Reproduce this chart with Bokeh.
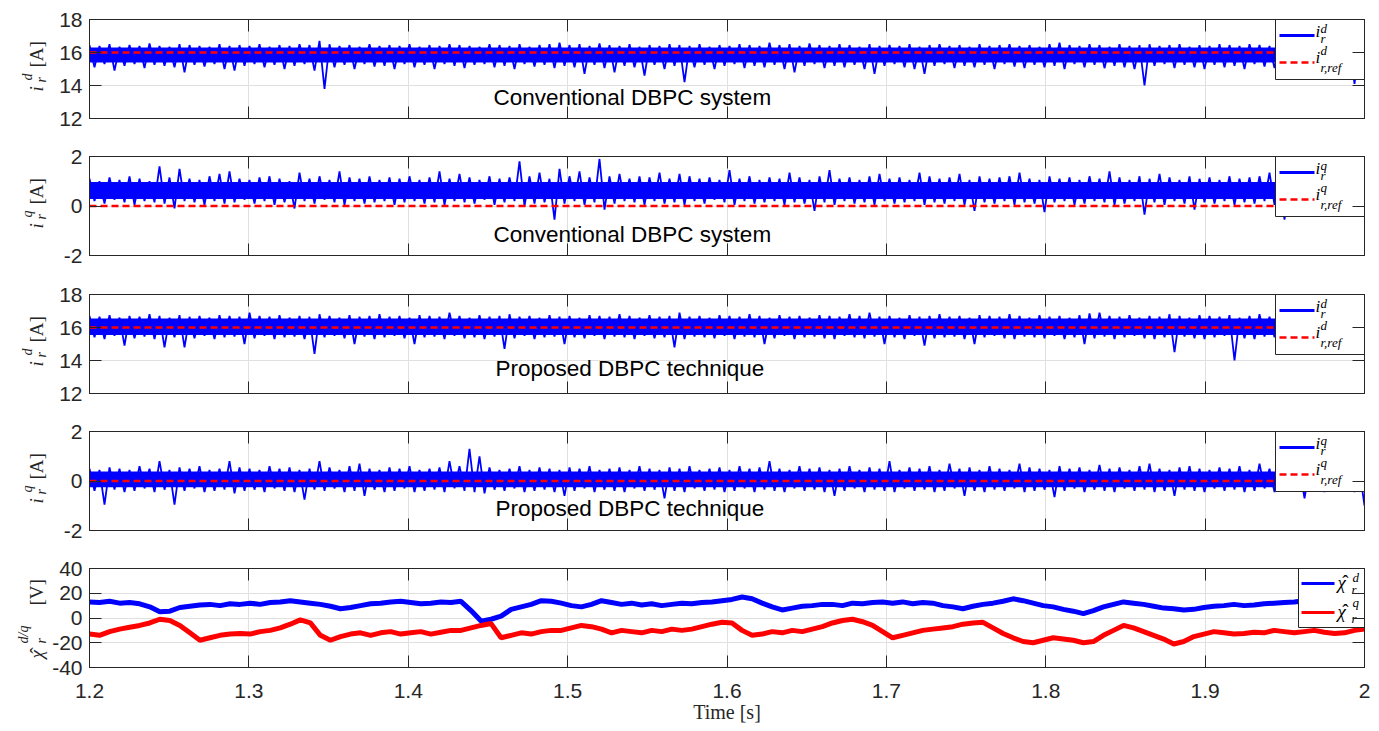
import numpy as np
from bokeh.plotting import figure
from bokeh.models import Range1d, LinearAxis, FixedTicker, Grid, Label
from bokeh.layouts import column, row
from bokeh.embed import file_html
from bokeh.resources import INLINE
from bokeh.core.properties import value

# ---------------- data ----------------
T_START, T_END = 1.2, 2.0
XTICKS = [1.2, 1.3, 1.4, 1.5, 1.6, 1.7, 1.8, 1.9, 2.0]
XTICK_LABELS = ["1.2", "1.3", "1.4", "1.5", "1.6", "1.7", "1.8", "1.9", "2"]
YTICKS_ID = [12, 14, 16, 18]
YTICKS_IQ = [-2, 0, 2]
YTICKS_CHI = [-40, -20, 0, 20, 40]

# panel 1: conventional DBPC, i_r^d  (upper / lower envelope of the noisy trace, 128 bins)
P1_REF = 16.0
P1_CORE = (15.4, 16.3)
P1_HI = [16.45,16.4,16.5,16.35,16.45,16.4,16.55,16.4,16.35,16.5,16.45,16.4,16.35,16.5,16.4,16.45,
         16.4,16.5,16.35,16.45,16.4,16.5,16.45,16.7,16.5,16.4,16.45,16.35,16.5,16.4,16.45,16.4,
         16.5,16.35,16.45,16.4,16.5,16.45,16.4,16.35,16.5,16.45,16.4,16.5,16.35,16.45,16.5,16.6,
         16.45,16.5,16.4,16.55,16.45,16.4,16.5,16.35,16.45,16.4,16.5,16.45,16.4,16.5,16.35,16.45,
         16.4,16.5,16.45,16.4,16.6,16.45,16.5,16.4,16.55,16.45,16.4,16.5,16.45,16.35,16.5,16.4,
         16.45,16.4,16.5,16.35,16.45,16.5,16.4,16.45,16.35,16.5,16.4,16.45,16.5,16.4,16.45,16.35,
         16.5,16.6,16.45,16.4,16.5,16.45,16.35,16.5,16.4,16.45,16.5,16.4,16.45,16.5,16.35,16.45,
         16.4,16.5,16.45,16.4,16.5,16.45,16.4,16.5,16.45,16.4,16.5,16.45,16.4,16.5,16.45,16.4]
P1_LO = [15.1,15.3,14.9,15.2,15.3,15.05,15.25,15.2,15.1,14.8,15.25,15.15,15.3,15.0,14.9,15.2,
         15.3,15.1,15.25,15.0,15.2,15.3,14.9,13.8,15.1,15.25,15.0,15.3,15.15,15.2,15.0,15.3,
         15.1,15.25,15.0,15.3,15.2,15.05,15.25,15.3,15.1,15.2,15.0,15.3,15.15,15.25,15.05,15.2,
         15.1,14.7,15.25,15.05,14.8,15.2,15.1,14.6,15.25,15.0,15.2,14.2,15.1,15.25,15.0,15.2,
         15.3,15.05,15.2,15.1,15.25,15.0,14.8,15.2,15.3,15.05,15.2,15.1,15.25,15.0,14.7,15.2,
         15.3,15.1,15.0,14.7,15.2,15.3,15.05,15.2,15.1,15.25,15.0,15.3,15.15,15.05,15.25,15.1,
         15.2,15.0,15.3,15.1,15.25,15.05,15.2,15.1,15.0,14.0,15.2,15.3,15.05,15.25,15.1,15.0,
         15.25,15.1,15.2,15.0,15.3,15.15,15.05,15.2,15.1,15.25,15.0,15.2,15.1,15.25,14.1,15.2]

# panel 2: conventional DBPC, i_r^q
P2_REF = 0.0
P2_CORE = (0.28, 0.97)
P2_HI = [1.1,1.0,1.15,1.05,1.2,1.1,1.0,1.6,1.15,1.5,1.1,1.05,1.2,1.3,1.4,1.1,
         1.05,1.15,1.2,1.1,1.0,1.35,1.1,1.2,1.05,1.4,1.15,1.1,1.2,1.05,1.15,1.1,
         1.2,1.05,1.15,1.4,1.1,1.3,1.15,1.05,1.2,1.1,1.15,1.8,1.2,1.35,1.1,1.5,
         1.2,1.4,1.15,1.9,1.2,1.3,1.1,1.2,1.15,1.35,1.1,1.3,1.2,1.1,1.15,1.05,
         1.45,1.1,1.2,1.05,1.15,1.1,1.35,1.15,1.05,1.2,1.45,1.1,1.15,1.05,1.2,1.3,
         1.1,1.15,1.05,1.35,1.2,1.1,1.15,1.3,1.05,1.2,1.1,1.15,1.2,1.35,1.1,1.05,
         1.2,1.1,1.15,1.05,1.2,1.1,1.4,1.15,1.05,1.2,1.1,1.3,1.15,1.05,1.2,1.1,
         1.15,1.05,1.2,1.1,1.15,1.2,1.35,1.1,1.05,1.15,1.2,1.1,1.15,1.05,1.2,1.1]
P2_LO = [0.2,0.1,0.25,0.15,0.05,0.2,0.15,0.1,-0.1,0.2,0.15,0.05,0.2,0.1,0.15,0.25,
         0.1,0.2,0.05,0.15,-0.1,0.2,0.1,0.25,0.15,0.05,0.2,0.1,0.15,0.2,0.05,0.15,
         0.2,0.1,0.15,0.05,0.2,0.15,0.1,0.25,0.05,0.15,0.2,0.0,0.1,0.15,-0.55,0.1,
         0.2,0.05,0.15,-0.15,0.1,0.2,0.15,0.05,0.2,0.1,0.15,0.05,0.2,0.1,0.25,0.15,
         0.05,0.2,0.1,0.15,0.2,0.05,0.15,0.1,-0.2,0.15,0.05,0.2,0.1,0.15,0.05,0.2,
         0.1,0.15,0.2,0.05,0.15,0.1,0.2,0.05,-0.2,0.15,0.1,0.2,0.05,0.15,0.1,-0.25,
         0.15,0.2,0.05,0.1,0.2,0.15,0.05,0.1,0.2,-0.35,0.15,0.05,0.2,0.1,-0.15,0.15,
         0.1,0.2,0.05,0.15,0.1,0.2,0.05,-0.55,0.15,0.1,0.2,0.05,0.15,0.1,0.2,0.05]

# panel 3: proposed DBPC, i_r^d
P3_REF = 16.0
P3_CORE = (15.55, 16.55)
P3_HI = [16.7,16.65,16.75,16.6,16.7,16.65,16.8,16.7,16.6,16.75,16.65,16.7,16.6,16.75,16.7,16.65,
         16.9,16.7,16.65,16.75,16.6,16.7,16.65,16.8,16.7,16.6,16.75,16.65,16.7,16.8,16.65,16.7,
         16.6,16.75,16.7,16.65,16.9,16.7,16.6,16.75,16.65,16.7,16.8,16.65,16.7,16.6,16.75,16.65,
         16.7,16.6,16.75,16.7,16.65,16.8,16.7,16.6,16.75,16.65,16.7,16.9,16.65,16.7,16.6,16.75,
         16.7,16.65,16.8,16.7,16.6,16.75,16.65,16.7,16.6,16.75,16.7,16.65,16.8,16.7,16.9,16.65,
         16.7,16.6,16.75,16.65,16.7,16.8,16.65,16.7,16.6,16.75,16.7,16.65,16.8,16.7,16.6,16.75,
         16.65,16.7,16.6,16.75,16.85,16.9,16.7,16.65,16.75,16.6,16.7,16.65,16.8,16.7,16.6,16.75,
         16.7,16.65,16.75,16.6,16.7,16.8,16.65,16.85,16.7,16.6,16.75,16.7,16.65,16.8,16.7,16.65]
P3_LO = [15.4,15.3,15.5,14.9,15.35,15.45,15.3,14.8,15.4,14.8,15.35,15.5,15.3,15.4,15.45,15.0,
         15.35,15.5,15.3,15.4,15.45,15.3,14.4,15.4,15.5,15.35,15.0,15.45,15.3,15.4,15.5,15.35,
         15.0,15.4,15.45,15.3,15.5,15.35,15.4,15.3,15.45,14.7,15.35,15.5,15.3,15.4,15.45,15.0,
         15.4,15.35,15.5,15.3,15.45,15.4,15.3,15.5,15.35,15.4,14.8,15.3,15.45,15.4,15.35,15.5,
         15.3,15.45,15.4,15.0,15.35,15.5,15.3,15.4,15.45,15.35,15.3,15.5,15.4,15.35,15.45,15.0,
         15.4,15.3,15.5,14.9,15.35,15.4,15.45,15.3,15.0,15.4,15.5,15.35,15.3,15.45,15.4,15.35,
         15.5,15.3,15.4,15.0,15.35,15.45,15.3,15.4,15.5,15.35,15.3,15.4,14.5,15.45,15.35,15.3,
         15.4,15.5,14.0,15.35,15.3,15.45,15.4,15.35,15.5,15.0,15.3,15.4,15.45,15.35,15.3,15.4]

# panel 4: proposed DBPC, i_r^q
P4_REF = 0.0
P4_CORE = (-0.25, 0.38)
P4_HI = [0.5,0.45,0.55,0.5,0.45,0.6,0.5,0.8,0.45,0.55,0.5,0.6,0.45,0.5,0.8,0.55,
         0.5,0.45,0.6,0.5,0.55,0.45,0.5,0.8,0.55,0.45,0.6,0.7,0.5,0.45,0.55,0.5,
         0.6,0.45,0.5,0.55,0.8,0.6,1.3,1.0,0.55,0.45,0.5,0.6,0.45,0.55,0.5,0.45,
         0.55,0.5,0.6,0.45,0.5,0.55,0.45,0.6,0.5,0.45,0.55,0.5,0.6,0.45,0.5,0.55,
         0.45,0.6,0.5,0.55,0.8,0.5,0.45,0.6,0.5,0.55,0.45,0.5,0.6,0.45,0.55,0.5,
         0.8,0.45,0.55,0.5,0.6,0.45,0.7,0.5,0.55,0.45,0.6,0.5,0.45,0.7,0.55,0.5,
         0.45,0.6,0.5,0.55,0.45,0.65,0.5,0.55,0.45,0.6,0.7,0.5,0.45,0.55,0.6,0.5,
         0.45,0.55,0.5,0.6,0.45,0.7,0.5,0.55,0.45,0.6,0.5,0.55,0.45,0.6,0.5,0.45]
P4_LO = [-0.4,-0.95,-0.35,-0.45,-0.4,-0.3,-0.45,-0.35,-0.95,-0.4,-0.3,-0.45,-0.4,-0.35,-0.5,-0.4,
         -0.35,-0.45,-0.3,-0.4,-0.45,-0.75,-0.35,-0.4,-0.3,-0.45,-0.4,-0.6,-0.35,-0.45,-0.4,-0.3,
         -0.45,-0.4,-0.35,-0.45,-0.3,-0.4,-0.45,-0.5,-0.35,-0.4,-0.3,-0.45,-0.4,-0.35,-0.45,-0.6,
         -0.4,-0.3,-0.45,-0.35,-0.4,-0.45,-0.3,-0.4,-0.35,-0.7,-0.4,-0.45,-0.3,-0.4,-0.35,-0.45,
         -0.4,-0.3,-0.45,-0.35,-0.4,-0.45,-0.3,-0.4,-0.35,-0.45,-0.6,-0.4,-0.3,-0.45,-0.35,-0.4,
         -0.45,-0.3,-0.4,-0.35,-0.45,-0.4,-0.3,-0.6,-0.4,-0.45,-0.35,-0.4,-0.3,-0.45,-0.4,-0.35,
         -0.65,-0.4,-0.3,-0.45,-0.35,-0.4,-0.45,-0.3,-0.4,-0.35,-0.45,-0.4,-0.6,-0.35,-0.4,-0.45,
         -0.3,-0.4,-0.35,-0.45,-0.4,-0.3,-0.45,-0.35,-0.4,-0.7,-0.35,-0.45,-0.4,-0.3,-0.45,-1.0]

# panel 5: disturbance estimates chi_r^d (blue) and chi_r^q (red)
CHI_D = [13,12.5,13.5,12,12.5,11.5,9,5,5.5,8.5,9.5,10.5,11,10,11.5,11,
         12,11,12.5,13,14,13,12,11,9.5,7.5,8.5,10,11.5,12,13,13.5,
         12.5,11.5,12,13,12.5,13.5,6,-2.5,-1,1.5,7,9,11,14,13.5,12,
         10,9,11,14,12.5,11,12,10.5,11.5,10,11,12,11.5,12.5,13,14,
         15,17,15.5,12,9,6.5,8,9.5,10,11,11,10,12,11.5,12.5,13,
         12,13,11.5,12.5,12,10,9,7.5,9.5,11,12,13.5,15.5,14,12,10,
         9,7,5.5,3.5,6,9,11,13,12,11,9.5,8,7.5,6.5,7,8.5,
         9.5,10,11,10,10.5,11.5,12,12.5,13,14,20,22,21,20,19,19]
CHI_Q = [-13,-14,-11,-9,-7.5,-6,-4,-1,-2,-6,-12,-18,-16,-14,-13,-12.5,
         -13,-11,-10,-8,-5,-1.5,-4,-14,-18,-15,-13,-12,-14,-12,-11,-13,
         -12,-11,-13,-11.5,-10,-10,-8,-6,-4.5,-16,-14,-12,-13,-11,-10,-10,
         -8,-6,-7,-9,-12,-10,-11,-12,-10,-11,-9,-10,-9,-7,-5,-3.5,
         -4,-10,-14,-13,-11,-12,-10,-11,-9,-7,-4,-2,-1,-3,-6,-11,
         -16,-14,-12,-10,-9,-8,-7,-5,-4,-3.5,-8,-12.5,-16,-19,-20,-18,
         -16,-17,-18,-20,-19,-14,-10,-6,-8,-11,-14,-17,-21,-19,-15,-13,
         -11,-12,-13,-12.5,-11.5,-12,-10,-11,-12,-11,-10,-11.5,-12.5,-12,-10,-9]

for arr in (P1_HI, P1_LO, P2_HI, P2_LO, P3_HI, P3_LO, P4_HI, P4_LO, CHI_D, CHI_Q):
    assert len(arr) == 128, len(arr)

# ---------------- styling / layout ----------------
BLUE = "#0000ff"
RED = "#ff0000"
AX = "#262626"
GRID = "#e0e0e0"
SANS = "Liberation Sans"
SERIF = "Liberation Serif"
FW, FH = 1275, 99          # frame size of each panel
LW = 49                    # width of the strip holding the y-axis titles
LEFT = 86                  # page x of the frames' left edge
ROT = np.pi / 2
SHIFT = 0.35               # baseline correction of rendered text (em)
TOPS = [19, 11, 12, 11, 11]
BOTTOMS = [27, 27, 27, 27, 63]
HEIGHTS = [t + FH + b for t, b in zip(TOPS, BOTTOMS)]
H_TOTAL = sum(HEIGHTS)
FRAME_TOP = [sum(HEIGHTS[:k]) + TOPS[k] for k in range(5)]
FRAME_BOT = [ft + FH for ft in FRAME_TOP]

x_range = Range1d(T_START, T_END)


def px_x(sx):
    return T_START + sx / FW * (T_END - T_START)


def px_y(sy, ymin, ymax):
    return ymin + sy / FH * (ymax - ymin)


def zigzag(hi, lo):
    n = len(hi)
    t = np.linspace(T_START, T_END, 2 * n)
    y = np.empty(2 * n)
    y[0::2] = hi
    y[1::2] = lo
    return t, y


def drop_grids(p):
    p.center = [c for c in p.center if not isinstance(c, Grid)]


def make_panel(k, ymin, ymax, yticks, show_x):
    p = figure(x_range=x_range, y_range=Range1d(ymin, ymax),
               frame_width=FW, frame_height=FH,
               min_border_left=LEFT - LW, min_border_right=10,
               min_border_top=TOPS[k], min_border_bottom=BOTTOMS[k],
               x_axis_location=None, y_axis_location=None,
               output_backend="svg", toolbar_location=None)
    drop_grids(p)
    p.outline_line_color = AX
    p.outline_line_width = 1
    p.background_fill_color = "white"
    p.border_fill_color = "white"
    p.add_layout(Grid(dimension=0, ticker=FixedTicker(ticks=XTICKS),
                      grid_line_color=GRID, grid_line_width=1))
    p.add_layout(Grid(dimension=1, ticker=FixedTicker(ticks=yticks),
                      grid_line_color=GRID, grid_line_width=1))
    for place, ticks, labels in (("below", XTICKS, show_x), ("above", XTICKS, False),
                                 ("left", yticks, True), ("right", yticks, False)):
        ax = LinearAxis(ticker=FixedTicker(ticks=ticks))
        ax.major_tick_in = 12
        ax.major_tick_out = 0
        ax.minor_tick_line_color = None
        ax.axis_line_color = AX
        ax.major_tick_line_color = AX
        if labels:
            ax.major_label_text_font = SANS
            ax.major_label_text_font_size = "21px"
            ax.major_label_text_color = AX
            if place == "left":
                ax.major_label_standoff = 7
                ax.major_label_overrides = {t: str(t) for t in ticks}
            else:
                ax.major_label_standoff = 16
                ax.major_label_overrides = dict(zip(XTICKS, XTICK_LABELS))
                ax.axis_label = "Time [s]"
                ax.axis_label_text_font = SERIF
                ax.axis_label_text_font_size = "20px"
                ax.axis_label_text_font_style = "normal"
                ax.axis_label_text_color = AX
                ax.axis_label_standoff = 0
        else:
            ax.major_label_text_font_size = "1px"
            ax.major_label_text_color = None
            ax.major_label_standoff = 0
        p.add_layout(ax, place)
    return p


def legend_box(p, ymin, ymax, left_px, height_px, sample_x, rows):
    """Legend drawn with glyphs (box, sample lines) at frame-pixel positions."""
    p.quad(left=[px_x(left_px)], right=[T_END], top=[ymax],
           bottom=[px_y(FH - height_px, ymin, ymax)],
           fill_color="white", line_color=AX, line_width=1)
    for dy_px, color, width, dash in rows:
        yv = px_y(FH - dy_px, ymin, ymax)
        p.line([px_x(sample_x[0]), px_x(sample_x[1])], [yv, yv],
               line_color=color, line_width=width, line_dash=dash)


def legend_text(p, ymin, ymax, pieces):
    for sx, sy, txt, size, style, align in pieces:
        p.text(x=[px_x(sx)], y=[px_y(sy + SHIFT * size, ymin, ymax)], text=[txt],
               text_font=value(SERIF), text_font_size=value(f"{size}px"),
               text_font_style=style, text_align=align, text_baseline="alphabetic",
               text_color="black")


def current_panel(k, hi, lo, ref, core, ymin, ymax, yticks, sup, caption, cap_x, cap_y):
    p = make_panel(k, ymin, ymax, yticks, False)
    t, y = zigzag(hi, lo)
    p.varea(x=[T_START, T_END], y1=[core[0], core[0]], y2=[core[1], core[1]],
            fill_color=BLUE, fill_alpha=1.0)
    p.line(t, y, line_color=BLUE, line_width=1.8)
    p.line(t, np.full(len(t), ref), line_color=RED, line_width=2.5, line_dash="7 4")
    legend_box(p, ymin, ymax, 1186, 60, (1190, 1225),
               [(16, BLUE, 3, "solid"), (43, RED, 2.5, "7 4")])
    legend_text(p, ymin, ymax, [
        (1226, 81, "i", 17, "italic", "left"),
        (1231, 85, sup, 13, "italic", "left"),
        (1231, 75, "r", 13, "italic", "left"),
        (1226, 55, "i", 17, "italic", "left"),
        (1231, 63, sup, 13, "italic", "left"),
        (1231, 46, "r,ref", 13, "italic", "left"),
    ])
    p.add_layout(Label(x=cap_x, y=cap_y, text=caption, text_font=SANS, text_font_size="22.5px",
                       text_color="black", text_align="left", text_baseline="alphabetic"))
    return p


p1 = current_panel(0, P1_HI, P1_LO, P1_REF, P1_CORE, 12, 18, YTICKS_ID, "d",
                   "Conventional DBPC system", 1.4535, 13.27)
p2 = current_panel(1, P2_HI, P2_LO, P2_REF, P2_CORE, -2, 2, YTICKS_IQ, "q",
                   "Conventional DBPC system", 1.4535, -1.15)
p3 = current_panel(2, P3_HI, P3_LO, P3_REF, P3_CORE, 12, 18, YTICKS_ID, "d",
                   "Proposed DBPC technique", 1.4547, 13.52)
p4 = current_panel(3, P4_HI, P4_LO, P4_REF, P4_CORE, -2, 2, YTICKS_IQ, "q",
                   "Proposed DBPC technique", 1.4547, -1.13)

# panel 5
p5 = make_panel(4, -40, 40, YTICKS_CHI, True)
t5 = np.linspace(T_START, T_END, len(CHI_D))
p5.line(t5, CHI_D, line_color=BLUE, line_width=5)
p5.line(t5, CHI_Q, line_color=RED, line_width=5)
legend_box(p5, -40, 40, 1209, 59, (1212, 1245),
           [(15, BLUE, 3, "solid"), (44, RED, 3, "solid")])
pieces5 = []
for base_y, sup, sub_y, sup_y in ((78, "d", 73, 85), (49, "q", 44, 60)):
    pieces5 += [(1248, base_y, "χ", 19, "italic", "left"),
                (1256, base_y + 1, "ˆ", 19, "normal", "center"),
                (1263, sup_y, sup, 13, "italic", "left"),
                (1262, sub_y, "r", 13, "italic", "left")]
legend_text(p5, -40, 40, pieces5)

# strip with the rotated y-axis titles (positions in page pixels)
strip = figure(x_range=Range1d(0, LW), y_range=Range1d(0, H_TOTAL),
               frame_width=LW, frame_height=H_TOTAL,
               min_border_left=0, min_border_right=0, min_border_top=0, min_border_bottom=0,
               x_axis_location=None, y_axis_location=None,
               output_backend="svg", toolbar_location=None)
drop_grids(strip)
strip.outline_line_color = None
strip.background_fill_color = "white"
strip.border_fill_color = "white"

title_pieces = []
for k, sup in zip(range(4), ["d", "q", "d", "q"]):
    b = FRAME_BOT[k]
    title_pieces += [(43, b - 27, "i", 19, "italic", "left"),
                     (32, b - 38, sup, 14, "italic", "left"),
                     (46, b - 36, "r", 14, "italic", "left"),
                     (43, b - 51, "[A]", 19, "normal", "left")]
b = FRAME_BOT[4]
title_pieces += [(43, b - 9, "χ", 19, "italic", "left"),
                 (43, b - 17, "ˆ", 19, "normal", "center"),
                 (28, b - 24, "d/q", 14, "italic", "left"),
                 (46, b - 24, "r", 14, "italic", "left"),
                 (43, b - 62, "[V]", 19, "normal", "left")]
for bx, page_y, txt, size, style, align in title_pieces:
    strip.text(x=[bx - SHIFT * size], y=[H_TOTAL - page_y], text=[txt], angle=ROT,
               text_font=value(SERIF), text_font_size=value(f"{size}px"),
               text_font_style=style, text_align=align, text_baseline="alphabetic",
               text_color=AX)

layout = row(strip, column(p1, p2, p3, p4, p5))
with open("out.html", "w", encoding="utf-8") as f:
    f.write(file_html(layout, INLINE))
